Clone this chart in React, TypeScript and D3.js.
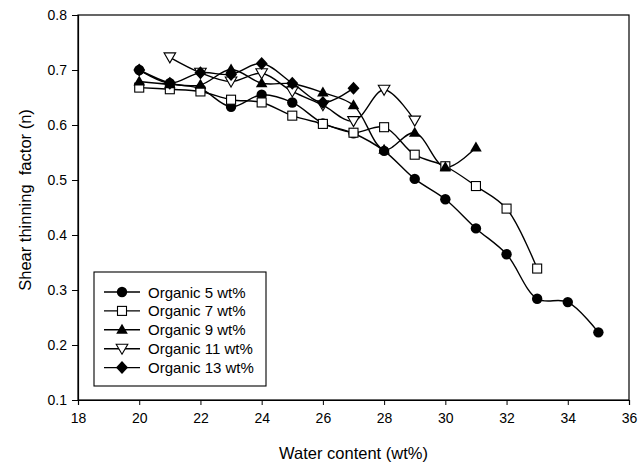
import * as d3 from "d3";
import React, { useEffect, useRef } from "react";

const water5 = [20, 21, 22, 23, 24, 25, 26, 27, 28, 29, 30, 31, 32, 33, 34, 35];
const organic5 = [0.7, 0.676, 0.666, 0.633, 0.655, 0.641, 0.603, 0.585, 0.553, 0.502, 0.465, 0.412, 0.365, 0.284, 0.278, 0.223];

const water7 = [20, 21, 22, 23, 24, 25, 26, 27, 28, 29, 30, 31, 32, 33];
const organic7 = [0.668, 0.665, 0.661, 0.646, 0.641, 0.617, 0.602, 0.586, 0.596, 0.546, 0.525, 0.489, 0.448, 0.339];

const water9 = [20, 21, 22, 23, 24, 25, 26, 27, 28, 29, 30, 31];
const organic9 = [0.679, 0.674, 0.673, 0.701, 0.676, 0.675, 0.659, 0.636, 0.555, 0.586, 0.523, 0.559];

const water11 = [21, 22, 23, 24, 25, 26, 27, 28, 29];
const organic11 = [0.723, 0.695, 0.679, 0.694, 0.661, 0.636, 0.607, 0.664, 0.608];

const water13 = [20, 21, 22, 23, 24, 25, 26, 27];
const organic13 = [0.7, 0.676, 0.695, 0.692, 0.712, 0.676, 0.641, 0.667];

const legendLabels = ["Organic 5 wt%", "Organic 7 wt%", "Organic 9 wt%", "Organic 11 wt%", "Organic 13 wt%"];
const xTicks = [18, 20, 22, 24, 26, 28, 30, 32, 34, 36];
const yTicks = [0.1, 0.2, 0.3, 0.4, 0.5, 0.6, 0.7, 0.8];

type Marker = "circle" | "square" | "triangleUp" | "triangleDown" | "diamond";

const series: { xs: number[]; ys: number[]; marker: Marker }[] = [
    { xs: water5, ys: organic5, marker: "circle" },
    { xs: water7, ys: organic7, marker: "square" },
    { xs: water9, ys: organic9, marker: "triangleUp" },
    { xs: water11, ys: organic11, marker: "triangleDown" },
    { xs: water13, ys: organic13, marker: "diamond" },
];

function drawMarker(g: any, marker: Marker, cx: number, cy: number) {
    if (marker === "circle") {
        g.append("circle").attr("cx", cx).attr("cy", cy).attr("r", 5.2).attr("fill", "#000");
    } else if (marker === "square") {
        g.append("rect")
            .attr("x", cx - 4.5).attr("y", cy - 4.5).attr("width", 9).attr("height", 9)
            .attr("fill", "#fff").attr("stroke", "#000").attr("stroke-width", 1.1);
    } else if (marker === "triangleUp") {
        g.append("path")
            .attr("d", `M${cx},${cy - 6}L${cx + 5.8},${cy + 4}L${cx - 5.8},${cy + 4}Z`)
            .attr("fill", "#000");
    } else if (marker === "triangleDown") {
        g.append("path")
            .attr("d", `M${cx},${cy + 5.5}L${cx + 5.8},${cy - 4.5}L${cx - 5.8},${cy - 4.5}Z`)
            .attr("fill", "#fff").attr("stroke", "#000").attr("stroke-width", 1.1);
    } else {
        g.append("path")
            .attr("d", `M${cx},${cy - 6.5}L${cx + 6},${cy}L${cx},${cy + 6.5}L${cx - 6},${cy}Z`)
            .attr("fill", "#000");
    }
}

function ShearChart() {
    const svgRef = useRef<SVGSVGElement>(null);

    useEffect(() => {
        const svg = d3.select(svgRef.current);
        const width = 638;
        const height = 466;
        const margin = { top: 15, right: 9, bottom: 66, left: 78 };
        const font = "Arial, 'Liberation Sans', sans-serif";

        svg.selectAll("*").remove();

        const x = d3.scaleLinear().domain([18, 36]).range([margin.left, width - margin.right]);
        const y = d3.scaleLinear().domain([0.1, 0.8]).range([height - margin.bottom, margin.top]);

        // frame
        svg.append("rect")
            .attr("x", margin.left).attr("y", margin.top)
            .attr("width", width - margin.left - margin.right)
            .attr("height", height - margin.top - margin.bottom)
            .attr("fill", "none").attr("stroke", "#000").attr("stroke-width", 1.2);

        const xAxis = svg.append("g")
            .attr("transform", `translate(0,${height - margin.bottom})`)
            .call(d3.axisBottom(x).tickValues(xTicks).tickSize(5).tickPadding(8).tickFormat(d3.format("d")));
        const yAxis = svg.append("g")
            .attr("transform", `translate(${margin.left},0)`)
            .call(d3.axisLeft(y).tickValues(yTicks).tickSize(6).tickPadding(5).tickFormat(d3.format(".1f")));

        [xAxis, yAxis].forEach((a) => {
            a.select(".domain").attr("stroke-width", 1.2);
            a.selectAll("text").attr("font-family", font).attr("font-size", 14).attr("fill", "#000");
        });

        svg.append("text")
            .attr("x", (margin.left + width - margin.right) / 2)
            .attr("y", 459)
            .attr("text-anchor", "middle")
            .attr("font-family", font).attr("font-size", 16.5)
            .text("Water content (wt%)");

        svg.append("text")
            .attr("transform", "translate(31,200) rotate(-90)")
            .attr("text-anchor", "middle")
            .attr("font-family", font).attr("font-size", 16.5)
            .style("white-space", "pre")
            .text("Shear thinning  factor (n)");

        const line = d3.line<[number, number]>()
            .x((d) => x(d[0]))
            .y((d) => y(d[1]))
            .curve(d3.curveCatmullRom.alpha(0.5));

        series.forEach((s) => {
            const pts: [number, number][] = s.xs.map((v, i) => [v, s.ys[i]]);
            svg.append("path")
                .attr("d", line(pts))
                .attr("fill", "none").attr("stroke", "#000").attr("stroke-width", 1.4);
        });

        series.forEach((s) => {
            const g = svg.append("g");
            s.xs.forEach((v, i) => drawMarker(g, s.marker, x(v), y(s.ys[i])));
        });

        // legend
        const lg = svg.append("g");
        lg.append("rect")
            .attr("x", 94).attr("y", 272).attr("width", 172).attr("height", 114)
            .attr("fill", "#fff").attr("stroke", "#000").attr("stroke-width", 1.1);
        series.forEach((s, i) => {
            const cy = 292 + i * 18.9;
            lg.append("line")
                .attr("x1", 104).attr("x2", 140).attr("y1", cy).attr("y2", cy)
                .attr("stroke", "#000").attr("stroke-width", 1.4);
            drawMarker(lg, s.marker, 122, cy);
            lg.append("text")
                .attr("x", 148).attr("y", cy + 5.5)
                .attr("font-family", font).attr("font-size", 15)
                .text(legendLabels[i]);
        });
    }, []);

    return <svg ref={svgRef} width={638} height={466} style={{ position: "absolute", left: 0, top: 0 }}></svg>;
}

export default function App() {
    return <ShearChart />;
}
